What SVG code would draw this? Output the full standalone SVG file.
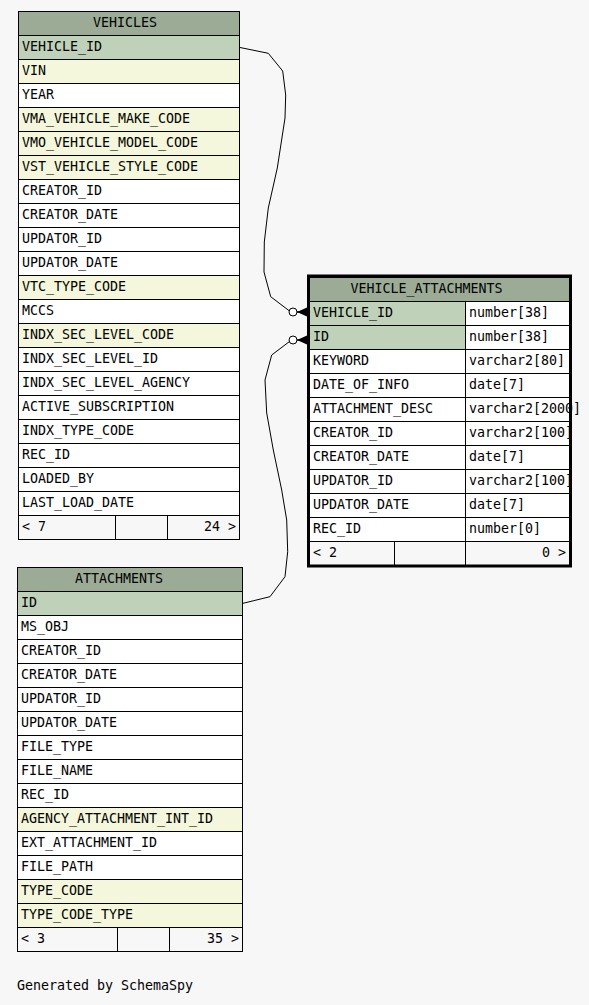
<svg xmlns="http://www.w3.org/2000/svg" width="589" height="1005" viewBox="0 0 589 1005">
<style>
text{font-family:"DejaVu Sans Mono","Liberation Mono",monospace;font-size:13.3px;fill:#000}
.c{stroke:#000;stroke-width:1}
.h{fill:#9cab96}
.p{fill:#bfd2b9}
.y{fill:#f4f7db}
.w{fill:#ffffff}
.f{fill:#f7f7f7}
.e{fill:none;stroke:#000;stroke-width:1}
.r{text-anchor:end}
</style>
<defs>
<g id="crow"><circle cx="-4" cy="0" r="4" fill="#fff" stroke="#000" stroke-width="1"/><path d="M0,0 L10,-4.5 L10,4.5 Z" fill="#000"/><line x1="0" y1="0" x2="10" y2="0" stroke="#000" stroke-width="1.5"/></g>
</defs>
<rect width="589" height="1005" fill="#f7f7f7"/>

<g id="VEHICLES">
<rect class="c h" x="18.5" y="11.5" width="221" height="24"/>
<text x="93" y="27">VEHICLES</text>
<rect class="c p" x="18.5" y="35.5" width="221" height="24"/>
<rect class="c y" x="18.5" y="59.5" width="221" height="24"/>
<rect class="c w" x="18.5" y="83.5" width="221" height="24"/>
<rect class="c y" x="18.5" y="107.5" width="221" height="24"/>
<rect class="c y" x="18.5" y="131.5" width="221" height="24"/>
<rect class="c y" x="18.5" y="155.5" width="221" height="24"/>
<rect class="c w" x="18.5" y="179.5" width="221" height="24"/>
<rect class="c w" x="18.5" y="203.5" width="221" height="24"/>
<rect class="c w" x="18.5" y="227.5" width="221" height="24"/>
<rect class="c w" x="18.5" y="251.5" width="221" height="24"/>
<rect class="c y" x="18.5" y="275.5" width="221" height="24"/>
<rect class="c w" x="18.5" y="299.5" width="221" height="24"/>
<rect class="c y" x="18.5" y="323.5" width="221" height="24"/>
<rect class="c w" x="18.5" y="347.5" width="221" height="24"/>
<rect class="c w" x="18.5" y="371.5" width="221" height="24"/>
<rect class="c w" x="18.5" y="395.5" width="221" height="24"/>
<rect class="c w" x="18.5" y="419.5" width="221" height="24"/>
<rect class="c w" x="18.5" y="443.5" width="221" height="24"/>
<rect class="c w" x="18.5" y="467.5" width="221" height="24"/>
<rect class="c w" x="18.5" y="491.5" width="221" height="24"/>
<rect class="c f" x="18.5" y="515.5" width="97" height="24"/>
<rect class="c f" x="115.5" y="515.5" width="52" height="24"/>
<rect class="c f" x="167.5" y="515.5" width="72" height="24"/>
<text x="22" y="51">VEHICLE_ID</text>
<text x="22" y="75">VIN</text>
<text x="22" y="99">YEAR</text>
<text x="22" y="123">VMA_VEHICLE_MAKE_CODE</text>
<text x="22" y="147">VMO_VEHICLE_MODEL_CODE</text>
<text x="22" y="171">VST_VEHICLE_STYLE_CODE</text>
<text x="22" y="195">CREATOR_ID</text>
<text x="22" y="219">CREATOR_DATE</text>
<text x="22" y="243">UPDATOR_ID</text>
<text x="22" y="267">UPDATOR_DATE</text>
<text x="22" y="291">VTC_TYPE_CODE</text>
<text x="22" y="315">MCCS</text>
<text x="22" y="339">INDX_SEC_LEVEL_CODE</text>
<text x="22" y="363">INDX_SEC_LEVEL_ID</text>
<text x="22" y="387">INDX_SEC_LEVEL_AGENCY</text>
<text x="22" y="411">ACTIVE_SUBSCRIPTION</text>
<text x="22" y="435">INDX_TYPE_CODE</text>
<text x="22" y="459">REC_ID</text>
<text x="22" y="483">LOADED_BY</text>
<text x="22" y="507">LAST_LOAD_DATE</text>
<text x="22" y="531">&lt; 7</text>
<text class="r" x="236" y="531">24 &gt;</text>
</g>

<g id="ATTACHMENTS">
<rect class="c h" x="17.5" y="567.5" width="225" height="24"/>
<text x="75" y="583">ATTACHMENTS</text>
<rect class="c p" x="17.5" y="591.5" width="225" height="24"/>
<rect class="c w" x="17.5" y="615.5" width="225" height="24"/>
<rect class="c w" x="17.5" y="639.5" width="225" height="24"/>
<rect class="c w" x="17.5" y="663.5" width="225" height="24"/>
<rect class="c w" x="17.5" y="687.5" width="225" height="24"/>
<rect class="c w" x="17.5" y="711.5" width="225" height="24"/>
<rect class="c w" x="17.5" y="735.5" width="225" height="24"/>
<rect class="c w" x="17.5" y="759.5" width="225" height="24"/>
<rect class="c w" x="17.5" y="783.5" width="225" height="24"/>
<rect class="c y" x="17.5" y="807.5" width="225" height="24"/>
<rect class="c w" x="17.5" y="831.5" width="225" height="24"/>
<rect class="c w" x="17.5" y="855.5" width="225" height="24"/>
<rect class="c y" x="17.5" y="879.5" width="225" height="24"/>
<rect class="c y" x="17.5" y="903.5" width="225" height="24"/>
<rect class="c f" x="17.5" y="927.5" width="100" height="24"/>
<rect class="c f" x="117.5" y="927.5" width="52" height="24"/>
<rect class="c f" x="169.5" y="927.5" width="73" height="24"/>
<text x="21" y="607">ID</text>
<text x="21" y="631">MS_OBJ</text>
<text x="21" y="655">CREATOR_ID</text>
<text x="21" y="679">CREATOR_DATE</text>
<text x="21" y="703">UPDATOR_ID</text>
<text x="21" y="727">UPDATOR_DATE</text>
<text x="21" y="751">FILE_TYPE</text>
<text x="21" y="775">FILE_NAME</text>
<text x="21" y="799">REC_ID</text>
<text x="21" y="823">AGENCY_ATTACHMENT_INT_ID</text>
<text x="21" y="847">EXT_ATTACHMENT_ID</text>
<text x="21" y="871">FILE_PATH</text>
<text x="21" y="895">TYPE_CODE</text>
<text x="21" y="919">TYPE_CODE_TYPE</text>
<text x="21" y="943">&lt; 3</text>
<text class="r" x="239" y="943">35 &gt;</text>
</g>

<g id="VEHICLE_ATTACHMENTS">
<rect class="c h" x="309.5" y="277.5" width="261" height="24"/>
<text x="350.5" y="293">VEHICLE_ATTACHMENTS</text>
<rect class="c p" x="309.5" y="301.5" width="156" height="24"/>
<rect class="c w" x="465.5" y="301.5" width="105" height="24"/>
<rect class="c p" x="309.5" y="325.5" width="156" height="24"/>
<rect class="c w" x="465.5" y="325.5" width="105" height="24"/>
<rect class="c w" x="309.5" y="349.5" width="156" height="24"/>
<rect class="c w" x="465.5" y="349.5" width="105" height="24"/>
<rect class="c w" x="309.5" y="373.5" width="156" height="24"/>
<rect class="c w" x="465.5" y="373.5" width="105" height="24"/>
<rect class="c w" x="309.5" y="397.5" width="156" height="24"/>
<rect class="c w" x="465.5" y="397.5" width="105" height="24"/>
<rect class="c w" x="309.5" y="421.5" width="156" height="24"/>
<rect class="c w" x="465.5" y="421.5" width="105" height="24"/>
<rect class="c w" x="309.5" y="445.5" width="156" height="24"/>
<rect class="c w" x="465.5" y="445.5" width="105" height="24"/>
<rect class="c w" x="309.5" y="469.5" width="156" height="24"/>
<rect class="c w" x="465.5" y="469.5" width="105" height="24"/>
<rect class="c w" x="309.5" y="493.5" width="156" height="24"/>
<rect class="c w" x="465.5" y="493.5" width="105" height="24"/>
<rect class="c w" x="309.5" y="517.5" width="156" height="24"/>
<rect class="c w" x="465.5" y="517.5" width="105" height="24"/>
<rect class="c f" x="309.5" y="541.5" width="85" height="24"/>
<rect class="c f" x="394.5" y="541.5" width="71" height="24"/>
<rect class="c f" x="465.5" y="541.5" width="105" height="24"/>
<text x="313" y="317">VEHICLE_ID</text>
<text x="313" y="341">ID</text>
<text x="313" y="365">KEYWORD</text>
<text x="313" y="389">DATE_OF_INFO</text>
<text x="313" y="413">ATTACHMENT_DESC</text>
<text x="313" y="437">CREATOR_ID</text>
<text x="313" y="461">CREATOR_DATE</text>
<text x="313" y="485">UPDATOR_ID</text>
<text x="313" y="509">UPDATOR_DATE</text>
<text x="313" y="533">REC_ID</text>
<text x="469" y="317">number[38]</text>
<text x="469" y="341">number[38]</text>
<text x="469" y="365">varchar2[80]</text>
<text x="469" y="389">date[7]</text>
<text x="469" y="413">varchar2[2000]</text>
<text x="469" y="437">varchar2[100]</text>
<text x="469" y="461">date[7]</text>
<text x="469" y="485">varchar2[100]</text>
<text x="469" y="509">date[7]</text>
<text x="469" y="533">number[0]</text>
<text x="313" y="557">&lt; 2</text>
<text class="r" x="566" y="557">0 &gt;</text>
<rect x="308.5" y="276" width="262" height="290" fill="none" stroke="#000" stroke-width="3"/>
</g>

<g id="connectors">
<path class="e" d="M240,47.5 L268.3,53.3 L282.7,71 L285.7,95 L285,118 L277.3,168 L268.3,208 L264.3,242 L264,272 L270.7,296.7 L289.5,311"/>
<use href="#crow" x="297" y="312"/>
<path class="e" d="M243,603.3 L270,596.7 L285,576.7 L287.7,551.7 L286.7,520 L281.7,490 L273.3,450 L266.7,413 L265,380 L271.7,355 L289.5,341.5"/>
<use href="#crow" x="297" y="340"/>
</g>

<text x="17" y="990">Generated by SchemaSpy</text>
</svg>
